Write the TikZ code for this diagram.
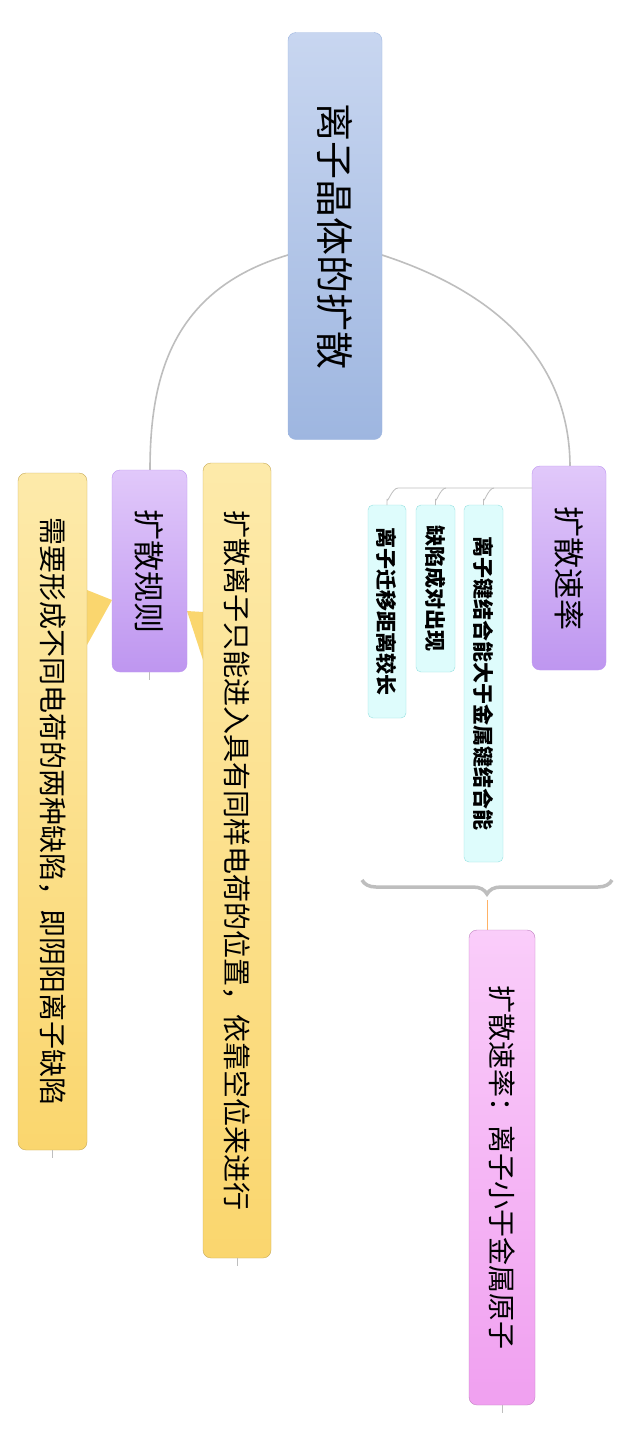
\documentclass[tikz,border=0pt]{standalone}
\usepackage{fontspec}
\setmainfont{Noto Sans CJK SC}
\usetikzlibrary{decorations.pathreplacing}
\definecolor{rootcolor}{RGB}{158,182,224}
\definecolor{rootlight}{RGB}{200,214,240}
\definecolor{topiccolor}{RGB}{190,150,240}
\definecolor{topiclight}{RGB}{225,200,250}
\definecolor{notecolor}{RGB}{250,214,110}
\definecolor{notelight}{RGB}{253,234,170}
\definecolor{subcolor}{RGB}{222,252,252}
\definecolor{subline}{RGB}{150,225,225}
\definecolor{sumcolor}{RGB}{240,160,240}
\definecolor{sumlight}{RGB}{250,205,250}
\definecolor{linecolor}{RGB}{190,190,190}
\tikzset{
  box/.style={rotate=-90,rounded corners=8pt,inner sep=0pt,align=center},
  rootbox/.style={box,bottom color=rootcolor,top color=rootlight,draw=rootcolor,font=\fontsize{38}{40}\selectfont},
  topicbox/.style={box,bottom color=topiccolor,top color=topiclight,draw=topiccolor,font=\fontsize{31}{33}\selectfont},
  notebox/.style={box,bottom color=notecolor,top color=notelight,draw=notecolor!80!black,font=\fontsize{28}{30}\selectfont},
  subbox/.style={box,rounded corners=5pt,fill=subcolor,draw=subline,font=\fontsize{21}{22}\selectfont\bfseries},
  sumbox/.style={box,bottom color=sumcolor,top color=sumlight,draw=sumcolor!80!black,font=\fontsize{28}{30}\selectfont},
  link/.style={draw=linecolor,line width=1.6pt}
}
\begin{document}
\begin{tikzpicture}[x=1pt,y=-1pt]
\useasboundingbox (0,0) rectangle (636,1443);
\fill[white] (0,0) rectangle (636,1443);
% main curves
\draw[link] (288,255) .. controls (170,290) and (150,380) .. (150,470);
\draw[link] (382,255) .. controls (520,300) and (570,380) .. (570,467);
% root
\node[rootbox,minimum width=407pt,minimum height=94pt] (root) at (335,236) {离子晶体的扩散};
% rate branch
\node[topicbox,minimum width=204pt,minimum height=74pt] (rate) at (569,568) {扩散速率};
\node[subbox,minimum width=357pt,minimum height=39pt] (bond) at (483.5,683.5) {离子键结合能大于金属键结合能};
\node[subbox,minimum width=167pt,minimum height=39pt] (pair) at (435.5,588.5) {缺陷成对出现};
\node[subbox,minimum width=213pt,minimum height=38pt] (dist) at (387,611.5) {离子迁移距离较长};
\draw[draw=linecolor,line width=0.8pt] (532,488) -- (398,488) to[out=180,in=-90] (387,499) -- (387,505);
\draw[draw=linecolor,line width=0.8pt] (446,488) to[out=180,in=-90] (435.5,499) -- (435.5,505);
\draw[draw=linecolor,line width=0.8pt] (494,488) to[out=180,in=-90] (483.5,499) -- (483.5,505);
% summary
\draw[draw=linecolor,line width=3.5pt,decorate,decoration={brace,amplitude=14pt}] (612,880) -- (362,880) coordinate[pos=0.5] (tip);
\draw[draw=orange!60,line width=1pt] (487,900) -- (487,930);
\node[sumbox,minimum width=475pt,minimum height=66pt] (summary) at (502,1167.5) {扩散速率：离子小于金属原子};
% rule branch
\fill[notecolor] (203,612) -- (187,611) -- (203,660) -- cycle;
\fill[notecolor] (87,590) -- (112,600) -- (87,645) -- cycle;
\node[topicbox,minimum width=202pt,minimum height=75pt] (rule) at (149.5,571) {扩散规则};
\node[notebox,minimum width=795pt,minimum height=68pt] (note1) at (237,860.5) {扩散离子只能进入具有同样电荷的位置，依靠空位来进行};
\node[notebox,minimum width=677pt,minimum height=69pt] (note2) at (52.5,811.5) {需要形成不同电荷的两种缺陷，即阴阳离子缺陷};
\draw[draw=linecolor,line width=0.6pt] (rule.east) -- ++(0,8);
\draw[draw=linecolor,line width=0.6pt] (note1.east) -- ++(0,8);
\draw[draw=linecolor,line width=0.6pt] (note2.east) -- ++(0,8);
\draw[draw=linecolor,line width=0.6pt] (summary.east) -- ++(0,8);
\end{tikzpicture}
\end{document}
